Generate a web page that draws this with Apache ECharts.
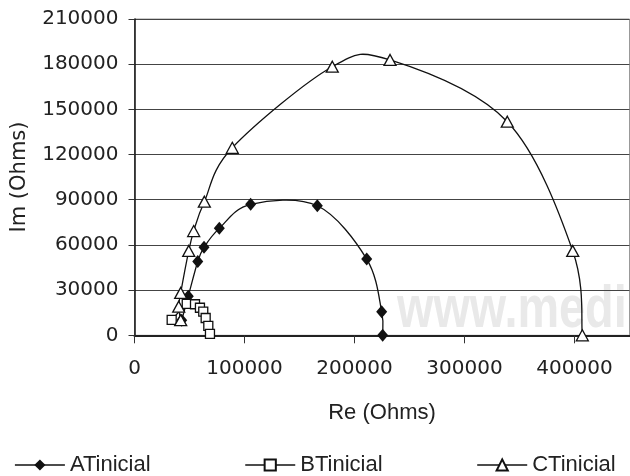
<!DOCTYPE html>
<html>
<head>
<meta charset="utf-8">
<script src="https://cdn.jsdelivr.net/npm/echarts@6/dist/echarts.min.js"></script>
<style>html,body{margin:0;padding:0;background:#fff}#c{width:630px;height:476px}</style>
</head>
<body>
<div id="c"></div>
<script>
// Series data: [Re (Ohms), Im (Ohms)]
var seriesNames = ['ATinicial', 'BTinicial', 'CTinicial'];
var dataA = [[42900,10000],[48900,26000],[57500,49000],[63200,58400],[77100,71000],[105600,87000],[166200,86000],[211100,50600],[224700,15700],[225600,0]];
var dataB = [[33800,10200],[47500,20800],[55000,20600],[59500,18300],[62500,15700],[64700,11500],[67100,6200],[68600,1000]];
var dataC = [[42000,10000],[40200,19000],[42000,28100],[49300,56000],[53800,69200],[63500,88700],[88900,124500],[179800,178300],[232300,182800],[338900,141800],[398400,56000],[407100,0]];
var xTicks = [0,100000,200000,300000,400000];
var yTicks = [0,30000,60000,90000,120000,150000,180000,210000];

var chart = echarts.init(document.getElementById('c'), null, {renderer:'canvas'});
var tickFont = {fontFamily:'DejaVu Sans', fontSize:20, color:'#222'};
var ink = '#111';

function markerSeries(name, data, symbol, size, fill) {
  return {
    name: name, type:'line', data:data, symbol:symbol, symbolSize:size, showSymbol:true, z:4,
    lineStyle:{color:ink, width:1.3, opacity:0},
    itemStyle:{color:fill, borderColor:ink, borderWidth: fill === ink ? 0 : 1.3},
    emphasis:{disabled:true}, animation:false
  };
}
// Smoothed curve (Excel-like Catmull-Rom) drawn through the axis scales
function curveSeries(id, data) {
  return {
    id:id, type:'custom', data:data, encode:{x:0, y:1}, z:3, silent:true, clip:true, animation:false,
    renderItem:function(params, api) {
      if (params.dataIndex !== 0) return null;
      var p = data.map(function(d){ return api.coord(d); });
      var kids = [];
      for (var i = 0; i < p.length - 1; i++) {
        var p0 = p[i-1] || p[i], p1 = p[i], p2 = p[i+1], p3 = p[i+2] || p[i+1];
        kids.push({type:'bezierCurve', shape:{
          x1:p1[0], y1:p1[1], x2:p2[0], y2:p2[1],
          cpx1:p1[0] + (p2[0]-p0[0])/6, cpy1:p1[1] + (p2[1]-p0[1])/6,
          cpx2:p2[0] - (p3[0]-p1[0])/6, cpy2:p2[1] - (p3[1]-p1[1])/6
        }, style:{fill:null, stroke:ink, lineWidth:1.3}});
      }
      return {type:'group', children:kids};
    }
  };
}
function plain(v){ return String(v); }

chart.setOption({
  animation:false,
  grid:{left:134.5, right:0.5, top:19, bottom:140.7, show:true, borderColor:'#999', borderWidth:1, z:0},
  xAxis:[{
    type:'value', min:0, max:450000, interval:50000,
    axisLine:{show:true, onZero:false, lineStyle:{color:'#555', width:1}},
    axisTick:{show:true, length:8, customValues:xTicks, lineStyle:{color:'#333'}},
    axisLabel:Object.assign({margin:23, customValues:xTicks, formatter:plain}, tickFont),
    splitLine:{show:false}
  },{
    type:'value', position:'top', min:0, max:450000,
    axisLine:{show:true, lineStyle:{color:'#222', width:2}},
    axisTick:{show:false}, axisLabel:{show:false}, splitLine:{show:false}
  }],
  yAxis:{
    type:'value', min:0, max:210000, interval:30000,
    axisLine:{show:true, onZero:false, lineStyle:{color:ink, width:1.5}},
    axisTick:{show:true, length:6, lineStyle:{color:'#333'}},
    axisLabel:Object.assign({margin:16, formatter:plain}, tickFont),
    splitLine:{show:true, lineStyle:{color:'#444', width:1}}
  },
  legend:{
    left:'center', top:449, itemWidth:50, itemHeight:14, itemGap:94,
    lineStyle:{color:ink, width:1.3, opacity:1},
    textStyle:{fontFamily:'Liberation Sans', fontSize:22, color:'#222'},
    data:seriesNames
  },
  graphic:[
    {type:'text', z:-10, silent:true, x:397, y:310, style:{text:'www.medi', fill:'#e9e9e9', font:'bold 60px "Liberation Sans"', textAlign:'left', textVerticalAlign:'middle'}, scaleX:0.78},
    {type:'text', x:20, y:177, rotation:Math.PI/2, style:{text:'Im (Ohms)', fill:'#222', font:'21px "DejaVu Sans"', textAlign:'center', textVerticalAlign:'middle'}},
    {type:'text', x:382, y:413, style:{text:'Re (Ohms)', fill:'#222', font:'22px "Liberation Sans"', textAlign:'center', textVerticalAlign:'middle'}}
  ],
  series:[
    markerSeries(seriesNames[0], dataA, 'diamond', [11,13], ink),
    markerSeries(seriesNames[1], dataB, 'rect', 9, '#fff'),
    markerSeries(seriesNames[2], dataC, 'triangle', [12,11], '#fff'),
    curveSeries('curveA', dataA),
    curveSeries('curveB', dataB),
    curveSeries('curveC', dataC)
  ]
});
</script>
</body>
</html>
